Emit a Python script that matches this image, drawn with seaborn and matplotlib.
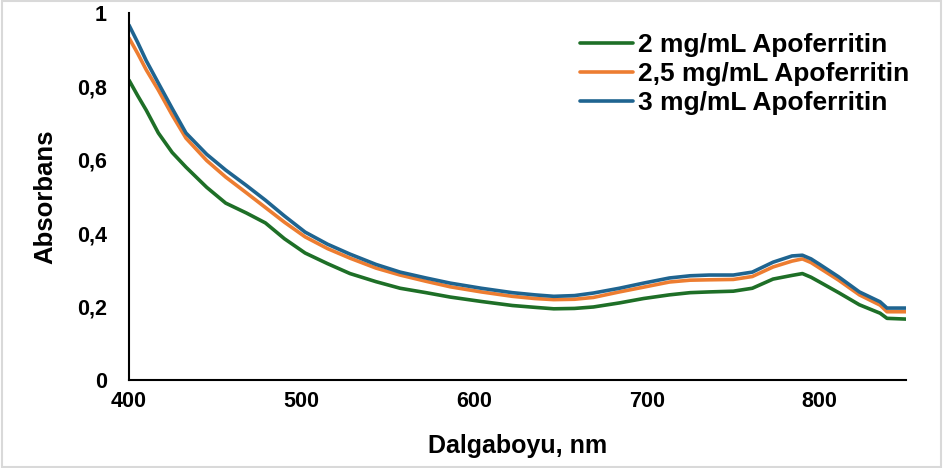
import matplotlib.pyplot as plt
import matplotlib.patches as mpatches
import seaborn as sns
import pandas as pd

# wavelengths (nm)
wavelength = [400, 405, 410, 417, 425, 433, 445, 456, 468, 479, 490, 502, 515, 528,
              543, 557, 572, 586, 604, 622, 635, 646, 658, 669, 684, 698, 713, 725,
              736, 750, 761, 773, 784, 790, 795, 800, 811, 823, 835, 839, 850]

abs_2mg = [0.817, 0.775, 0.735, 0.673, 0.620, 0.580, 0.525, 0.482, 0.455, 0.428, 0.385,
           0.346, 0.317, 0.290, 0.268, 0.250, 0.238, 0.226, 0.214, 0.203, 0.198, 0.194,
           0.195, 0.199, 0.210, 0.222, 0.232, 0.238, 0.240, 0.242, 0.250, 0.275, 0.285,
           0.290, 0.280, 0.267, 0.238, 0.205, 0.182, 0.168, 0.166]

abs_25mg = [0.932, 0.890, 0.845, 0.790, 0.722, 0.659, 0.598, 0.553, 0.510, 0.470, 0.430,
            0.390, 0.358, 0.332, 0.305, 0.286, 0.269, 0.254, 0.240, 0.228, 0.222, 0.219,
            0.220, 0.225, 0.240, 0.253, 0.267, 0.272, 0.273, 0.274, 0.282, 0.308, 0.324,
            0.330, 0.320, 0.305, 0.272, 0.232, 0.204, 0.186, 0.186]

abs_3mg = [0.967, 0.920, 0.870, 0.809, 0.740, 0.673, 0.615, 0.572, 0.530, 0.490, 0.447,
           0.403, 0.370, 0.343, 0.315, 0.294, 0.278, 0.264, 0.250, 0.238, 0.232, 0.228,
           0.230, 0.237, 0.250, 0.264, 0.278, 0.284, 0.286, 0.286, 0.294, 0.321, 0.338,
           0.340, 0.330, 0.315, 0.281, 0.240, 0.213, 0.196, 0.196]

series_names = ['2 mg/mL Apoferritin', '2,5 mg/mL Apoferritin', '3 mg/mL Apoferritin']
series_colors = ['#1e6f27', '#ed7d31', '#1f6490']

x_ticks = [400, 500, 600, 700, 800]
y_ticks = [0, 0.2, 0.4, 0.6, 0.8, 1]
y_ticklabels = ['0', '0,2', '0,4', '0,6', '0,8', '1']

frames = []
for name, vals in zip(series_names, [abs_2mg, abs_25mg, abs_3mg]):
    frames.append(pd.DataFrame({'wavelength': wavelength, 'absorbance': vals, 'series': name}))
data = pd.concat(frames, ignore_index=True)

sns.set_theme(style='white')
plt.rcParams['font.family'] = ['Liberation Sans', 'DejaVu Sans']
plt.rcParams['text.color'] = 'black'
plt.rcParams['axes.labelcolor'] = 'black'

fig = plt.figure(figsize=(9.43, 4.68), dpi=100)
ax = fig.add_axes([129 / 943, 88 / 468, 777 / 943, 367 / 468])

sns.lineplot(
    data=data,
    x='wavelength',
    y='absorbance',
    hue='series',
    hue_order=series_names,
    palette=dict(zip(series_names, series_colors)),
    linewidth=2.6,
    ax=ax,
)

ax.set_xlim(400, 850)
ax.set_ylim(0, 1)
ax.set_xticks(x_ticks)
ax.set_yticks(y_ticks)
ax.set_yticklabels(y_ticklabels)

for lab in ax.get_xticklabels() + ax.get_yticklabels():
    lab.set_fontweight('bold')
    lab.set_fontsize(15.5)
    lab.set_color('black')
ax.tick_params(axis='x', length=0, pad=8)
ax.tick_params(axis='y', length=0, pad=16)

for side in ['top', 'right']:
    ax.spines[side].set_visible(False)
for side in ['left', 'bottom']:
    ax.spines[side].set_color('black')
    ax.spines[side].set_linewidth(1.5)

ax.set_xlabel('Dalgaboyu, nm', fontsize=18, fontweight='bold', labelpad=16)
ax.set_ylabel('Absorbans', fontsize=18.5, fontweight='bold', labelpad=14)

leg = ax.legend(
    loc='upper left',
    bbox_to_anchor=(556 / 943, 459 / 468),
    bbox_transform=fig.transFigure,
    frameon=False,
    handlelength=2.0,
    handletextpad=0.2,
    labelspacing=0.2,
    prop={'weight': 'bold', 'size': 19},
)
for line in leg.get_lines():
    line.set_linewidth(2.6)

# light grey chart border, Excel-style
fig.patches.append(mpatches.Rectangle((0.002, 0.003), 0.996, 0.994, transform=fig.transFigure,
                                      fill=False, edgecolor='#d9d9d9', linewidth=1.5))

fig.savefig('out.png', dpi=100)
